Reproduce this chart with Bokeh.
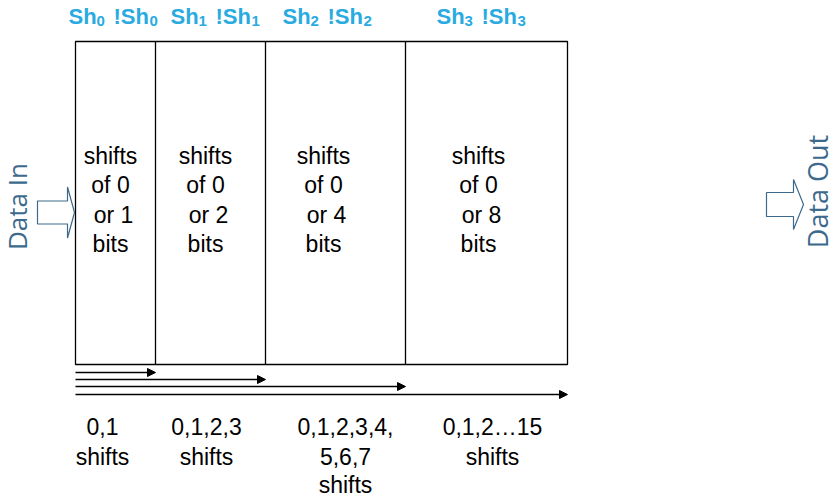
import math
from bokeh.plotting import figure
from bokeh.models import Range1d, Arrow, NormalHead
from bokeh.core.properties import value
from bokeh.embed import file_html
from bokeh.resources import INLINE

# ---------------- data ----------------
stage_index = [0, 1, 2, 3]
stage_shift = ["1", "2", "4", "8"]
stage_ranges = [["0,1", "shifts"],
                ["0,1,2,3", "shifts"],
                ["0,1,2,3,4,", "5,6,7", "shifts"],
                ["0,1,2\u202615", "shifts"]]
side_labels = ["Data In", "Data Out"]

# ---------------- layout (screen pixels) ----------------
W, H = 836, 496
box_left, box_top, box_bottom = 75, 41, 364
box_edges = [75, 155, 265, 405, 567]
body_cx = [110, 205, 323, 478]
body_dx = [0, 0, 3, 0]
body_base = [155, 184, 214, 243]
bottom_cx = [102, 206, 345, 492]
bottom_base = [426, 456, 484]
header_x0 = [68, 170, 282, 436]
header_base, sub_base = 16, 20
arrow_y = [372, 379, 386, 394]

BLUE = "#29ABE2"
SLATE = "#3D6A8C"
FONT = "Liberation Sans"

p = figure(width=W, height=H, output_backend="svg", toolbar_location=None,
           x_range=Range1d(0, W), y_range=Range1d(H, 0), min_border=0)
p.axis.visible = False
p.grid.visible = False
p.outline_line_color = None
p.background_fill_color = "white"
p.border_fill_color = "white"

# box outline and dividers
p.quad(left=[box_edges[0]], right=[box_edges[-1]], top=[box_top], bottom=[box_bottom],
       fill_color=None, line_color="black", line_width=1.3)
p.segment(x0=box_edges[1:-1], y0=[box_top] * 3, x1=box_edges[1:-1], y1=[box_bottom] * 3,
          line_color="black", line_width=1.3)

# header labels with subscripts
for i, x0 in zip(stage_index, header_x0):
    sub = str(i)
    p.text(x=[x0], y=[header_base], text=["Sh"], text_font=value(FONT), text_font_style="bold",
           text_font_size="22px", text_color=BLUE, text_baseline="alphabetic", text_align="left")
    p.text(x=[x0 + 28], y=[sub_base], text=[sub], text_font=value(FONT), text_font_style="bold",
           text_font_size="15px", text_color=BLUE, text_baseline="alphabetic", text_align="left")
    p.text(x=[x0 + 45], y=[header_base], text=["!Sh"], text_font=value(FONT), text_font_style="bold",
           text_font_size="22px", text_color=BLUE, text_baseline="alphabetic", text_align="left")
    p.text(x=[x0 + 81], y=[sub_base], text=[sub], text_font=value(FONT), text_font_style="bold",
           text_font_size="15px", text_color=BLUE, text_baseline="alphabetic", text_align="left")

# body text in each stage
for cx, s in zip(body_cx, stage_shift):
    lines = ["shifts", "of 0", "or " + s, "bits"]
    p.text(x=[cx + d for d in body_dx], y=body_base, text=lines, text_font=value(FONT),
           text_font_size="23px", text_color="black", text_align="center",
           text_baseline="alphabetic")

# bottom labels
for cx, lines in zip(bottom_cx, stage_ranges):
    n = len(lines)
    p.text(x=[cx] * n, y=bottom_base[:n], text=lines, text_font=value(FONT),
           text_font_size="23px", text_color="black", text_align="center",
           text_baseline="alphabetic")

# shift arrows
for y, xe in zip(arrow_y, box_edges[1:]):
    p.add_layout(Arrow(end=NormalHead(size=8, fill_color="black", line_color="black"),
                       x_start=box_left, y_start=y, x_end=xe, y_end=y,
                       line_color="black", line_width=1.3))

# hollow block arrows
def block_arrow(xl, xs, xt, ymid, half_shaft, half_head):
    xs_ = [xl, xs, xs, xt, xs, xs, xl]
    ys_ = [ymid - half_shaft, ymid - half_shaft, ymid - half_head, ymid,
           ymid + half_head, ymid + half_shaft, ymid + half_shaft]
    p.patch(xs_, ys_, fill_color="white", line_color=SLATE, line_width=1.2)

block_arrow(37, 67, 74, 212, 11.5, 25.5)
block_arrow(766, 793, 803, 204, 12, 25)

# side labels
p.text(x=[16], y=[206], text=[side_labels[0]], angle=math.pi / 2, text_font=value("Open Sans"),
       text_font_size="26px", text_color=SLATE, text_align="center", text_baseline="middle")
p.text(x=[817], y=[191], text=[side_labels[1]], angle=math.pi / 2, text_font=value("Open Sans"),
       text_font_size="27px", text_color=SLATE, text_align="center", text_baseline="middle")

open("out.html", "w").write(file_html(p, INLINE))
